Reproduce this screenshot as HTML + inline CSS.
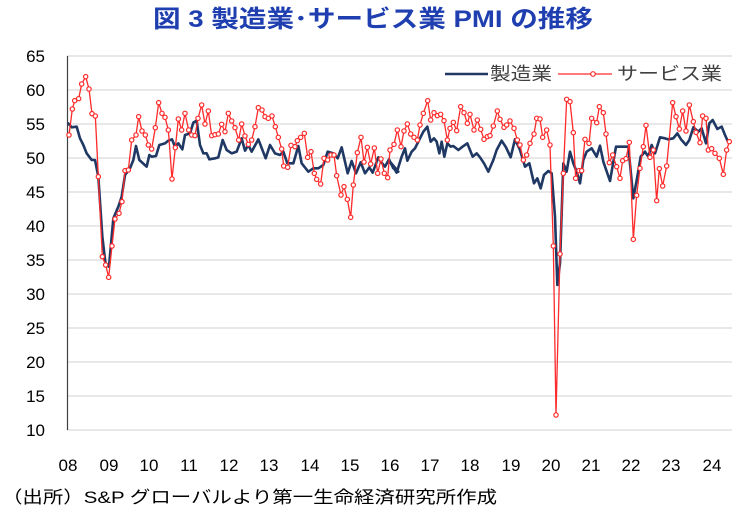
<!DOCTYPE html>
<html><head><meta charset="utf-8"><style>
body{margin:0;background:#fff;width:741px;height:513px;overflow:hidden;font-family:"Liberation Sans","Noto Sans CJK JP",sans-serif;}
</style></head><body>
<svg width="741" height="513" xmlns="http://www.w3.org/2000/svg" style="font-family:'Liberation Sans','Noto Sans CJK JP',sans-serif">
<text x="153" y="27" font-size="24" font-weight="bold" fill="#1f3fb0" textLength="440" lengthAdjust="spacingAndGlyphs">図 3  製造業･サービス業 PMI の推移</text>
<g stroke="#d9d9d9" stroke-width="1.3">
<line x1="67" x2="732" y1="56" y2="56"/><line x1="67" x2="732" y1="90" y2="90"/><line x1="67" x2="732" y1="124" y2="124"/><line x1="67" x2="732" y1="158" y2="158"/><line x1="67" x2="732" y1="192" y2="192"/><line x1="67" x2="732" y1="226" y2="226"/><line x1="67" x2="732" y1="260" y2="260"/><line x1="67" x2="732" y1="294" y2="294"/><line x1="67" x2="732" y1="328" y2="328"/><line x1="67" x2="732" y1="362" y2="362"/><line x1="67" x2="732" y1="396" y2="396"/><line x1="67" x2="732" y1="430" y2="430"/>
</g>
<line x1="67.5" x2="67.5" y1="56" y2="430" stroke="#404040" stroke-width="1.2"/>
<g font-size="17" fill="#000" text-anchor="end">
<text x="45" y="62">65</text><text x="45" y="96">60</text><text x="45" y="130">55</text><text x="45" y="164">50</text><text x="45" y="198">45</text><text x="45" y="232">40</text><text x="45" y="266">35</text><text x="45" y="300">30</text><text x="45" y="334">25</text><text x="45" y="368">20</text><text x="45" y="402">15</text><text x="45" y="436">10</text>
</g>
<g font-size="17" fill="#000" text-anchor="middle">
<text x="68" y="471">08</text><text x="109" y="471">09</text><text x="149" y="471">10</text><text x="189" y="471">11</text><text x="229" y="471">12</text><text x="269" y="471">13</text><text x="310" y="471">14</text><text x="350" y="471">15</text><text x="390" y="471">16</text><text x="430" y="471">17</text><text x="470" y="471">18</text><text x="511" y="471">19</text><text x="551" y="471">20</text><text x="591" y="471">21</text><text x="631" y="471">22</text><text x="671" y="471">23</text><text x="712" y="471">24</text>
</g>
<g transform="translate(50,50) scale(0.33333)">
<polyline fill="none" stroke="#1f3864" stroke-width="2.6" vector-effect="non-scaling-stroke" stroke-linejoin="round" points="53,218 65,232 80,230 90,265 100,285 110,310 125,330 135,330 145,380 157,560 167,645 177,650 190,505 205,470 215,440 225,375 240,355 250,330 258,288 268,330 290,350 298,315 305,320 318,318 328,285 345,280 355,272 366,268 375,290 385,280 397,298 405,255 420,250 430,218 440,212 450,285 460,310 470,310 478,328 495,325 505,322 518,270 530,300 545,310 560,305 575,265 585,302 595,285 605,305 625,268 647,325 660,285 675,310 690,315 700,305 712,340 730,340 745,288 755,340 775,365 790,355 805,355 820,345 833,305 850,310 863,325 875,292 893,370 905,333 918,370 932,337 945,370 958,352 968,368 985,322 995,338 1005,350 1017,328 1030,355 1045,365 1020,335 1040,368 1055,320 1065,295 1072,332 1085,305 1095,295 1110,265 1120,245 1132,230 1142,275 1152,265 1160,275 1168,310 1175,275 1183,320 1192,280 1202,290 1210,288 1225,300 1235,292 1252,280 1268,320 1280,310 1290,322 1302,340 1315,365 1330,330 1340,300 1355,272 1368,292 1382,322 1395,268 1410,300 1425,350 1438,340 1452,400 1462,385 1472,415 1482,375 1495,363 1505,370 1515,500 1522,705 1530,640 1540,340 1550,365 1560,305 1570,340 1580,365 1590,400 1600,330 1610,305 1625,295 1640,320 1650,287 1660,335 1680,393 1698,290 1720,290 1735,290 1750,445 1762,380 1772,320 1785,305 1795,320 1805,285 1815,310 1830,262 1845,265 1855,268 1870,265 1882,250 1893,268 1908,285 1918,270 1930,232 1945,245 1955,235 1968,280 1978,220 1988,210 2002,237 2015,230 2025,255 2035,277"/>
<g id="red" fill="#fff" stroke="#ff2a2a" stroke-width="1.2">
<polyline fill="none" vector-effect="non-scaling-stroke" stroke-width="1.3" points="57,255 67,177 74,152 86,146 95,102 107,80 117,117 126,191 136,198 145,380 157,620 167,645 176,682 186,588 195,507 207,490 216,455 225,362 235,360 245,270 258,255 266,200 276,243 286,255 295,285 305,297 316,233 326,158 336,190 345,202 355,240 366,387 376,293 385,207 395,240 405,190 416,240 425,255 435,257 444,205 455,165 465,222 475,183 485,257 495,254 505,252 515,223 525,245 535,190 545,213 555,233 566,270 575,222 585,258 595,283 605,270 615,230 625,173 636,180 645,200 655,205 666,198 676,230 685,262 695,297 701,348 713,352 723,286 735,290 742,272 752,262 763,250 773,322 783,305 793,370 800,388 812,402 822,325 833,330 843,315 852,315 860,377 873,435 882,410 892,448 902,502 910,405 922,308 933,262 942,336 952,292 962,342 973,294 983,370 993,327 1003,370 1013,383 1020,300 1032,283 1042,240 1053,290 1062,243 1072,222 1082,252 1092,262 1102,270 1110,225 1120,190 1133,152 1142,210 1152,188 1162,197 1172,193 1182,212 1192,270 1200,235 1210,217 1220,242 1232,170 1242,188 1252,220 1260,193 1272,240 1282,210 1292,238 1302,268 1312,260 1320,257 1330,228 1342,183 1350,208 1362,232 1370,225 1380,213 1392,235 1402,270 1410,285 1420,330 1430,315 1440,280 1452,252 1460,205 1470,207 1478,262 1490,240 1500,285 1510,588 1518,1095 1530,612 1540,370 1550,148 1560,155 1570,248 1577,385 1587,362 1595,362 1605,268 1617,280 1625,205 1640,218 1648,170 1660,188 1668,252 1678,338 1688,315 1700,350 1710,385 1718,332 1728,326 1738,277 1750,568 1760,436 1770,355 1780,290 1788,226 1800,322 1810,300 1820,452 1828,356 1838,408 1850,348 1868,158 1878,200 1888,237 1898,183 1908,243 1918,165 1930,215 1938,247 1950,278 1958,198 1968,205 1975,300 1985,296 1995,310 2008,325 2020,373 2030,300 2038,275"/>
</g>
</g>
<line x1="445" x2="488" y1="74" y2="74" stroke="#1f3864" stroke-width="2.6"/>
<text x="490" y="80" font-size="18" fill="#404040" textLength="62" lengthAdjust="spacingAndGlyphs">製造業</text>
<line x1="558" x2="612" y1="74" y2="74" stroke="#ff2a2a" stroke-width="1.3"/>
<circle cx="593" cy="74" r="2.3" fill="#fff" stroke="#ff2a2a" stroke-width="1.2"/>
<text x="617" y="80" font-size="18" fill="#404040" textLength="105" lengthAdjust="spacingAndGlyphs">サービス業</text>
<text x="2" y="503" font-size="17" fill="#000" textLength="495" lengthAdjust="spacingAndGlyphs">（出所）S&amp;P グローバルより第一生命経済研究所作成</text>
<script>
(function(){var g=document.getElementById('red');var pl=g.querySelector('polyline');var pts=pl.getAttribute('points').trim().split(/\s+/);var ns='http://www.w3.org/2000/svg';pts.forEach(function(p){var a=p.split(',');var c=document.createElementNS(ns,'circle');c.setAttribute('cx',a[0]);c.setAttribute('cy',a[1]);c.setAttribute('r','6.5');c.setAttribute('vector-effect','non-scaling-stroke');g.appendChild(c);});})();
</script>
</svg>
</body></html>
